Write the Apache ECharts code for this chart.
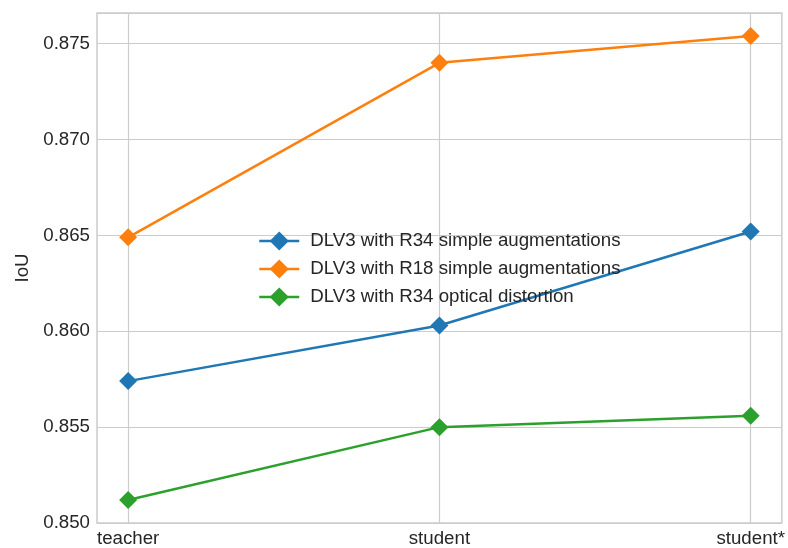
<!DOCTYPE html>
<html>
<head>
<meta charset="utf-8">
<script src="https://cdn.jsdelivr.net/npm/echarts@6/dist/echarts.min.js"></script>
<style>html,body{margin:0;padding:0;background:#fff}#c{width:788px;height:548px}</style>
</head>
<body>
<div id="c"></div>
<script>
const categories = ['teacher', 'student', 'student*'];
const seriesNames = ['DLV3 with R34 simple augmentations', 'DLV3 with R18 simple augmentations', 'DLV3 with R34 optical distortion'];
const r34Simple = [0.8574, 0.8603, 0.8652];
const r18Simple = [0.8649, 0.8740, 0.8754];
const r34Optical = [0.8512, 0.8550, 0.8556];
const colors = ['#1f77b4', '#ff7f0e', '#2ca02c'];

const FONT = '"Liberation Sans", Arial, sans-serif';
const FS = 18.7;
const TXT = '#262626';
const GRID = '#cccccc';

const allData = [r34Simple, r18Simple, r34Optical];
const chart = echarts.init(document.getElementById('c'));
chart.setOption({
  animation: false,
  backgroundColor: '#fff',
  grid: { left: 97, right: 5, top: 13, bottom: 24, show: true, borderColor: GRID, borderWidth: 1.5 },
  xAxis: {
    type: 'value', min: -0.1, max: 2.1,
    axisLine: { show: false },
    axisTick: { show: false, customValues: [0, 1, 2] },
    axisLabel: { customValues: [0, 1, 2], formatter: v => categories[Math.round(v)], color: TXT, fontFamily: FONT, fontSize: FS, margin: 6 },
    splitLine: { show: true, lineStyle: { color: GRID, width: 1.2 } }
  },
  yAxis: {
    type: 'value', min: 0.850, max: 0.8766, interval: 0.005,
    name: 'IoU', nameLocation: 'middle', nameGap: 58, nameRotate: 90,
    nameTextStyle: { color: TXT, fontFamily: FONT, fontSize: FS },
    axisLine: { show: false }, axisTick: { show: false },
    axisLabel: { formatter: v => v.toFixed(3), color: TXT, fontFamily: FONT, fontSize: FS, margin: 7, padding: [4, 0, 0, 0], showMaxLabel: false },
    splitLine: { show: true, lineStyle: { color: GRID, width: 1.2 } }
  },
  legend: {
    orient: 'vertical', left: 253, top: 224,
    itemWidth: 40, itemHeight: 24, itemGap: 4,
    lineStyle: { width: 2.5 },
    textStyle: { color: TXT, fontFamily: FONT, fontSize: FS, lineHeight: 24, padding: [0, 0, 0, 6] },
    data: seriesNames
  },
  series: allData.map((d, i) => ({
    name: seriesNames[i],
    type: 'line',
    data: d.map((v, j) => [j, v]),
    symbol: 'diamond', symbolSize: 18,
    lineStyle: { color: colors[i], width: 2.5 },
    itemStyle: { color: colors[i] },
    emphasis: { disabled: true }
  }))
});
</script>
</body>
</html>
